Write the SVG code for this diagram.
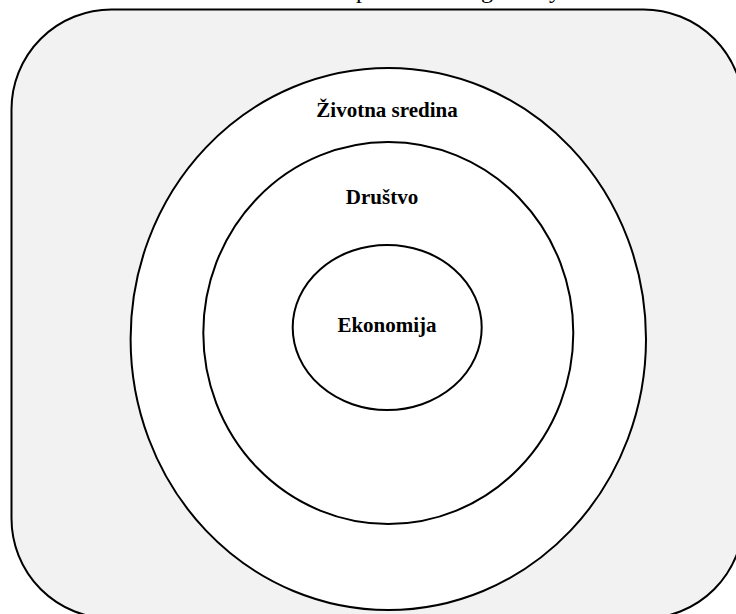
<svg xmlns="http://www.w3.org/2000/svg" width="736" height="614" viewBox="0 0 736 614">
  <style>
    .ring { fill: #ffffff; stroke: #000000; stroke-width: 2; }
    .frame { fill: #f2f2f2; stroke: #000000; stroke-width: 2; }
    .label { font-family: "Liberation Serif", "Times New Roman", serif; font-weight: bold; font-size: 21px; fill: #000000; text-anchor: middle; }
    .title { font-family: "Liberation Serif", "Times New Roman", serif; font-size: 24px; fill: #000000; }
  </style>

  <!-- caption line running above the frame -->
  <text class="title" y="-2"><tspan x="356">p</tspan><tspan x="481">g</tspan><tspan x="549">y</tspan></text>

  <!-- rounded background frame -->
  <g id="frame">
    <rect class="frame" x="11.5" y="9.5" width="732" height="609" rx="100" ry="100"/>
  </g>

  <!-- nested spheres -->
  <g id="zivotna-sredina">
    <ellipse class="ring" cx="388.3" cy="339" rx="257.7" ry="271"/>
    <text class="label" x="387" y="117">Životna sredina</text>
  </g>

  <g id="drustvo">
    <ellipse class="ring" cx="388.3" cy="333" rx="185" ry="191"/>
    <text class="label" x="382" y="204">Društvo</text>
  </g>

  <g id="ekonomija">
    <ellipse class="ring" cx="387.2" cy="327.5" rx="94.5" ry="82.5"/>
    <text class="label" x="387" y="332">Ekonomija</text>
  </g>

  <g id="connectors"/>
</svg>
